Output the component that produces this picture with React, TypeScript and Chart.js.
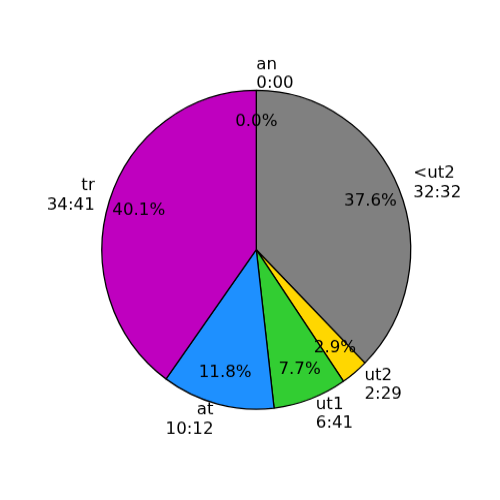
import React, { useEffect, useRef } from "react";
import { Chart, registerables } from "chart.js";

Chart.register(...registerables);

// Data
const names = ["an", "<ut2", "ut2", "ut1", "at", "tr"];
const timeLabels = ["0:00", "32:32", "2:29", "6:41", "10:12", "34:41"];
const seconds = [0, 1952, 149, 401, 612, 2081];
const colors = ["#1f77b4", "#808080", "#FFD700", "#32CD32", "#1E90FF", "#BF00BF"];

const FS = 16.67;
const SY = 1.033; // vertical stretch of the pie (reference is slightly elliptical)
const CW = 500;
const CH = 484;

function drawBlock(ctx: CanvasRenderingContext2D, px: number, py: number, lines: string[], align: CanvasTextAlign) {
  ctx.save();
  ctx.translate(px, py);
  ctx.scale(1, 1 / SY);
  ctx.textAlign = align;
  ctx.textBaseline = "alphabetic";
  if (lines.length === 1) {
    ctx.fillText(lines[0], 0, 0.262 * FS);
  } else {
    ctx.fillText(lines[0], 0, -0.312 * FS);
    ctx.fillText(lines[1], 0, 0.836 * FS);
  }
  ctx.restore();
}

const labelPlugin = {
  id: "pieLabels",
  afterDraw(chart: any) {
    const ctx: CanvasRenderingContext2D = chart.ctx;
    const meta = chart.getDatasetMeta(0);
    const total = seconds.reduce((a, b) => a + b, 0);
    ctx.save();
    ctx.font = `${FS}px "DejaVu Sans"`;
    ctx.fillStyle = "#000000";
    meta.data.forEach((el: any, i: number) => {
      const p = el.getProps(["x", "y", "startAngle", "endAngle", "outerRadius"], true);
      const a = (p.startAngle + p.endAngle) / 2;
      const c = Math.cos(a);
      const s = Math.sin(a);
      const r = p.outerRadius;
      const pct = ((seconds[i] / total) * 100).toFixed(1) + "%";
      drawBlock(ctx, p.x + 0.8 * r * c, p.y + 0.8 * r * s, [pct], "center");
      const align: CanvasTextAlign = c > -1e-9 ? "left" : "right";
      drawBlock(ctx, p.x + 1.1 * r * c, p.y + 1.1 * r * s, [names[i], timeLabels[i]], align);
    });
    ctx.restore();
  },
};

export default function App() {
  const ref = useRef<HTMLCanvasElement | null>(null);
  useEffect(() => {
    if (!ref.current) return;
    const chart = new Chart(ref.current, {
      type: "pie",
      data: {
        labels: names,
        datasets: [
          {
            data: seconds,
            backgroundColor: colors,
            borderColor: "#000000",
            borderWidth: 1.3,
          },
        ],
      },
      options: {
        responsive: false,
        animation: false,
        events: [],
        layout: {
          padding: { left: 101.3, right: 88.7, top: 86.7, bottom: 87.3 },
        },
        plugins: {
          legend: { display: false },
          tooltip: { enabled: false },
        },
      },
      plugins: [labelPlugin],
    });
    return () => chart.destroy();
  }, []);
  return (
    <div style={{ position: "fixed", left: 0, top: 0, width: 500, height: 500, overflow: "hidden", background: "#fff" }}>
      <div style={{ width: CW, height: CH, transform: `scaleY(${SY})`, transformOrigin: "0 0" }}>
        <canvas ref={ref} width={CW} height={CH} style={{ display: "block" }} />
      </div>
    </div>
  );
}
